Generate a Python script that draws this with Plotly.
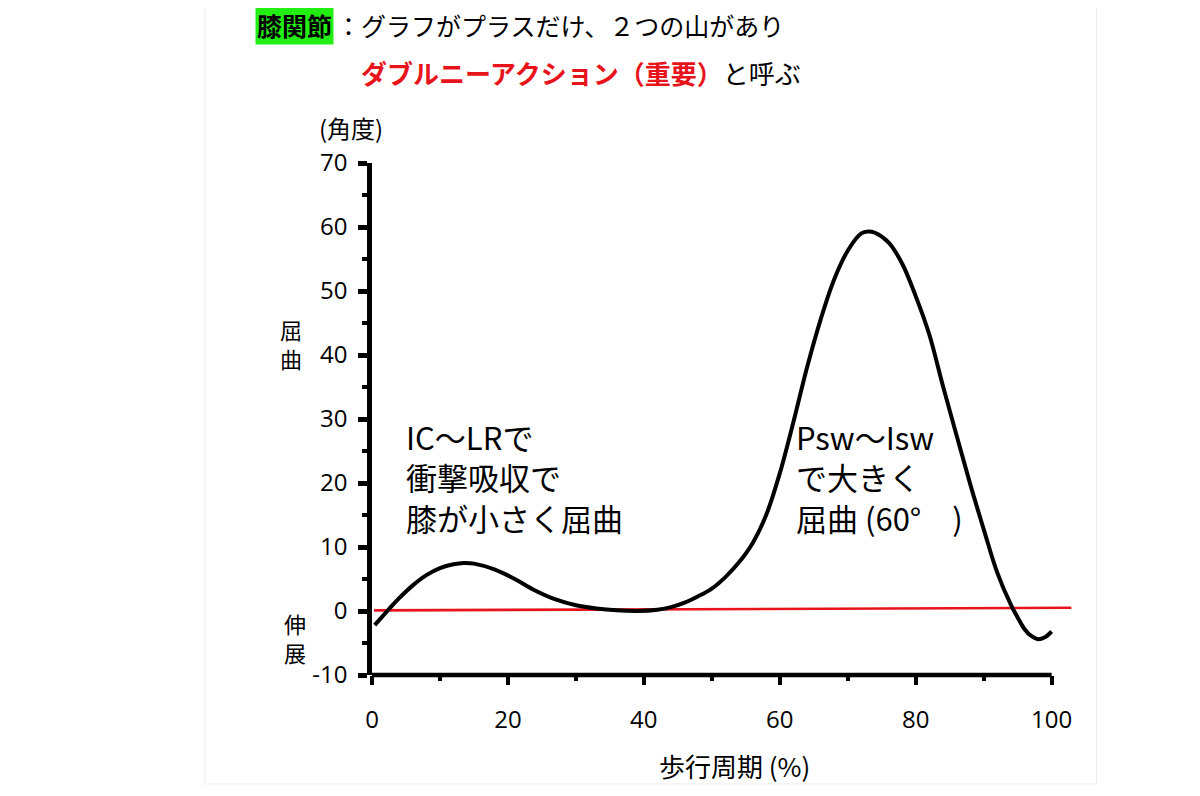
"""
Knee joint angle across the gait cycle (double knee action), redrawn with Plotly.
Writes out.html.
"""

import plotly.graph_objects as go

# gait cycle (%) and knee flexion angle (deg)
GAIT_PCT = [0.4, 2.5, 4, 6, 8, 10, 12, 13.5, 15, 18, 21, 24, 27, 30, 33, 36, 39,
            42, 44, 46, 48, 50, 52, 54, 56, 58, 60, 62, 64, 66, 68, 70, 72, 73,
            74, 76, 78, 80, 82, 84, 86, 88, 90, 92, 94, 95, 96, 97, 98, 99, 100]
KNEE_ANGLE = [-2.2, 0.3, 2.0, 4.0, 5.6, 6.7, 7.3, 7.5, 7.4, 6.5, 5.0, 3.2, 1.8,
              0.9, 0.4, 0.1, 0.0, 0.2, 0.6, 1.3, 2.3, 3.5, 5.3, 7.6, 10.6, 15.0,
              21.5, 29.5, 38.0, 45.5, 51.8, 56.3, 59.0, 59.3, 59.1, 57.6, 54.3,
              49.2, 43.2, 35.2, 27.5, 19.9, 12.8, 6.0, 1.0, -1.0, -2.8, -3.9,
              -4.4, -4.1, -3.2]

# red zero reference line
ZERO_X = [0.3, 102.9]
ZERO_Y = [0.1, 0.5]

X_TICKS = [0, 20, 40, 60, 80, 100]
Y_TICKS = [-10, 0, 10, 20, 30, 40, 50, 60, 70]
Y_TICK_TEXT = ["-10", "0", "10", "20", "30", "40", "50", "60", "70"]

LEFT_NOTE = ["IC〜LRで", "衝撃吸収で", "膝が小さく屈曲"]
RIGHT_NOTE = ["Psw〜Isw", "で大きく", "屈曲 (60°　)"]

JP = "Noto Sans CJK JP"
LAT = "Open Sans"

fig = go.Figure()

fig.add_scatter(
    x=ZERO_X, y=ZERO_Y, mode="lines",
    line={"color": "#e8141c", "width": 2.6},
    hoverinfo="skip", showlegend=False,
)
fig.add_scatter(
    x=GAIT_PCT, y=KNEE_ANGLE, mode="lines",
    line={"color": "black", "width": 4, "shape": "spline", "smoothing": 1.0},
    showlegend=False,
)

# the page body adds 8px, so margins are shifted back by that much
fig.update_layout(
    width=1200,
    height=796,
    paper_bgcolor="white",
    plot_bgcolor="white",
    margin={"l": 364, "r": 136, "t": 155, "b": 129},
    font={"family": LAT, "color": "black"},
)

fig.update_xaxes(
    range=[0, 103],
    showgrid=False, zeroline=False, showline=False,
    tickvals=X_TICKS,
    ticks="outside", ticklen=9, tickwidth=4, tickcolor="black",
    tickfont={"family": LAT, "size": 24},
    ticklabelstandoff=14,
    minor={"dtick": 10, "tick0": 0, "ticks": "outside", "ticklen": 5,
           "tickwidth": 4, "tickcolor": "black"},
)
fig.update_yaxes(
    range=[-10, 70],
    showgrid=False, zeroline=False,
    showline=True, linewidth=4.5, linecolor="black",
    tickvals=Y_TICKS, ticktext=Y_TICK_TEXT,
    ticks="outside", ticklen=9, tickwidth=4.5, tickcolor="black",
    tickfont={"family": LAT, "size": 24},
    ticklabelstandoff=6,
    minor={"dtick": 5, "tick0": 0, "ticks": "outside", "ticklen": 5,
           "tickwidth": 4, "tickcolor": "black"},
)

# x spine only up to 100, the red line runs a bit past it
fig.add_shape(type="line", xref="x", yref="paper", x0=0, x1=100, y0=0, y1=0,
              line={"color": "black", "width": 4.5})

# faint frame around the whole chart
fig.add_shape(type="rect", xref="paper", yref="paper",
              x0=-0.2384, x1=1.035, y0=-0.213, y1=1.34,
              line={"color": "#ececec", "width": 1}, layer="below")

# header lines
fig.add_annotation(
    xref="paper", yref="paper", x=-0.167, y=1.2695, xanchor="left", yanchor="middle",
    text="<b>膝関節</b>", showarrow=False, bgcolor="#22ee14", borderpad=1,
    font={"family": JP, "size": 25, "color": "black"},
)
fig.add_annotation(
    xref="paper", yref="paper", x=-0.0543, y=1.2695, xanchor="left", yanchor="middle",
    text="：グラフがプラスだけ、２つの山があり", showarrow=False,
    font={"family": JP, "size": 25, "color": "black"},
)
fig.add_annotation(
    xref="paper", yref="paper", x=-0.0186, y=1.1777, xanchor="left", yanchor="middle",
    text="<b><span style='color:#e8141c'>ダブルニーアクション（重要）</span></b>と呼ぶ",
    showarrow=False,
    font={"family": JP, "size": 26, "color": "black"},
)

# axis labels
fig.add_annotation(
    xref="paper", yref="paper", x=-0.0293, y=1.0703, xanchor="center", yanchor="middle",
    text="(角度)", showarrow=False, font={"family": JP, "size": 24},
)
for ch, yv in zip(["屈", "曲"], [44.1, 39.6]):
    fig.add_annotation(
        xref="paper", yref="y", x=-0.1164, y=yv, xanchor="center", yanchor="middle",
        text=ch, showarrow=False, font={"family": JP, "size": 22},
    )
for ch, yv in zip(["伸", "展"], [-1.9, -6.4]):
    fig.add_annotation(
        xref="paper", yref="y", x=-0.1107, y=yv, xanchor="center", yanchor="middle",
        text=ch, showarrow=False, font={"family": JP, "size": 22},
    )
fig.add_annotation(
    xref="x", yref="paper", x=53.3, y=-0.1758, xanchor="center", yanchor="middle",
    text="歩行周期 (%)", showarrow=False, font={"family": JP, "size": 26},
)

# phase notes inside the plot
fig.add_annotation(
    xref="x", yref="y", x=4.7, y=21.0, xanchor="left", yanchor="middle", align="left",
    text="<br>".join(LEFT_NOTE), showarrow=False, font={"family": JP, "size": 31},
)
fig.add_annotation(
    xref="x", yref="y", x=62.1, y=21.0, xanchor="left", yanchor="middle", align="left",
    text="<br>".join(RIGHT_NOTE), showarrow=False, font={"family": JP, "size": 31},
)

fig.write_html("out.html")
